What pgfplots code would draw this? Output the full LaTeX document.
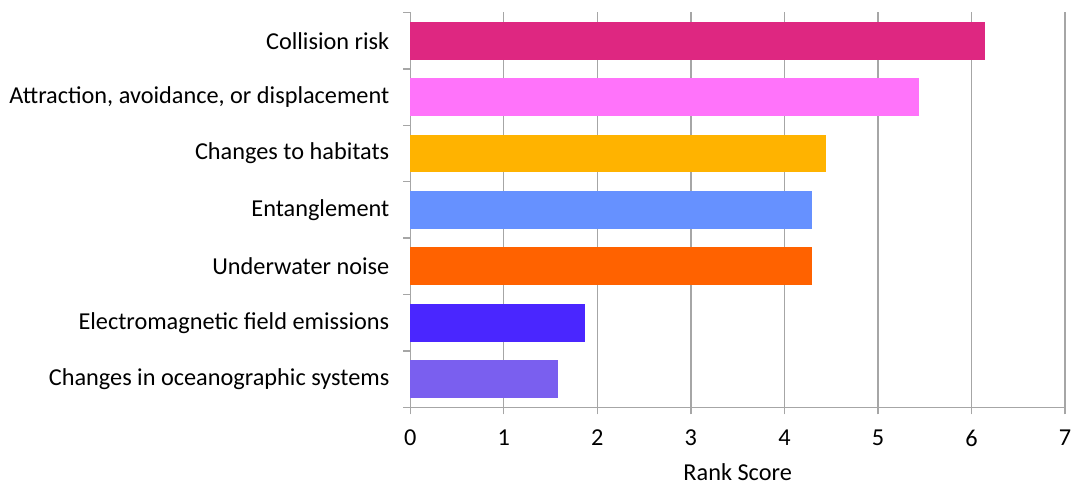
\documentclass[border=0pt]{standalone}
\usepackage{pgfplots}
\pgfplotsset{compat=1.18}
\usepackage{fontspec}
\setmainfont{Carlito}

\definecolor{cCollision}{RGB}{222,39,129}
\definecolor{cAttract}{RGB}{255,115,250}
\definecolor{cHabitat}{RGB}{255,179,0}
\definecolor{cEntangle}{RGB}{102,145,255}
\definecolor{cNoise}{RGB}{255,98,0}
\definecolor{cEMF}{RGB}{74,38,255}
\definecolor{cOcean}{RGB}{122,95,239}
\definecolor{axgray}{RGB}{166,166,166}

\begin{document}
\begin{tikzpicture}[x=1pt,y=1pt]
\useasboundingbox (-410.5,-77.5) rectangle (663,407.5);
\begin{axis}[
  scale only axis,
  width=655pt, height=395pt,
  xbar, bar width=38pt, bar shift=0pt,
  xmin=0, xmax=7,
  ymin=-0.5, ymax=6.5,
  axis x line=bottom, axis y line=left,
  axis line style={axgray, line width=1.3pt, -},
  xtick={0,...,7},
  ytick={0,...,6},
  yticklabels={Changes in oceanographic systems,Electromagnetic field emissions,Underwater noise,Entanglement,Changes to habitats,{Attraction, avoidance, or displacement},Collision risk},
  extra y ticks={-0.5,0.5,1.5,2.5,3.5,4.5,5.5,6.5},
  extra y tick labels={},
  extra y tick style={ytick style={draw=axgray, line width=1.3pt}, tick align=outside},
  major tick length=7pt,
  xtick style={axgray, line width=1.3pt},
  xtick align=outside,
  ytick style={draw=none},
  xmajorgrids,
  major grid style={axgray, line width=1.3pt},
  tick label style={font=\fontsize{24.3}{28}\selectfont},
  /pgf/number format/assume math mode=true,
  xticklabel style={yshift=-12pt},
  yticklabel style={xshift=-14pt},
  xlabel={Rank Score},
  xlabel style={font=\fontsize{24.3}{28}\selectfont, yshift=-10pt},
  clip=false,
]
\addplot[fill=cOcean, draw=none] coordinates {(1.575,0)};
\addplot[fill=cEMF, draw=none] coordinates {(1.865,1)};
\addplot[fill=cNoise, draw=none] coordinates {(4.30,2)};
\addplot[fill=cEntangle, draw=none] coordinates {(4.30,3)};
\addplot[fill=cHabitat, draw=none] coordinates {(4.44,4)};
\addplot[fill=cAttract, draw=none] coordinates {(5.44,5)};
\addplot[fill=cCollision, draw=none] coordinates {(6.15,6)};
\end{axis}
\end{tikzpicture}
\end{document}
